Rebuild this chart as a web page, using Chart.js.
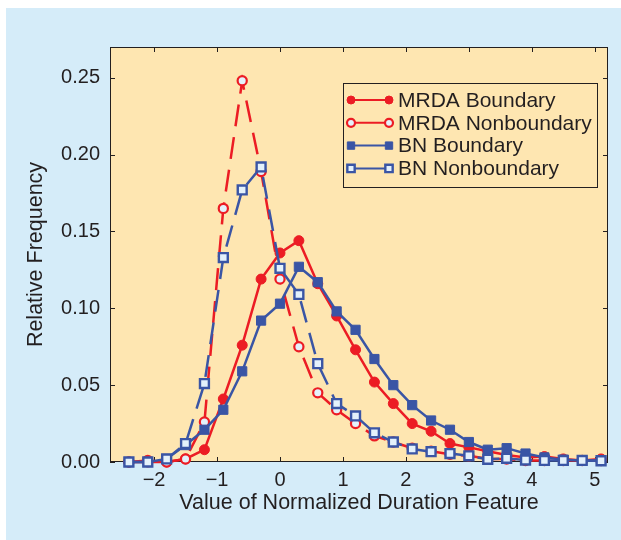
<!DOCTYPE html>
<html>
<head>
<meta charset="utf-8">
<script src="https://cdn.jsdelivr.net/npm/chart.js@4.4.0/dist/chart.umd.min.js"></script>
<style>
  html, body { margin: 0; padding: 0; background: #fff; }
  canvas { display: block; }
</style>
</head>
<body>
<canvas id="chart-duration" width="621" height="540"></canvas>
<script>
// values (x = normalized duration feature)
var durationX = [-2.4, -2.1, -1.8, -1.5, -1.2, -0.9, -0.6, -0.3, 0, 0.3, 0.6, 0.9, 1.2,
                 1.5, 1.8, 2.1, 2.4, 2.7, 3.0, 3.3, 3.6, 3.9, 4.2, 4.5, 4.8, 5.1];
var mrdaBoundary = [0, 0, 0, 0.002, 0.008, 0.041, 0.076, 0.119, 0.136, 0.144, 0.116, 0.095, 0.073,
                    0.052, 0.038, 0.025, 0.020, 0.012, 0.0095, 0.007, 0.0045, 0.003, 0.0035, 0.002, 0.001, 0.002];
var mrdaNonboundary = [0, 0.001, 0, 0.002, 0.026, 0.165, 0.248, 0.189, 0.119, 0.075, 0.045, 0.034, 0.025,
                       0.017, 0.013, 0.009, 0.007, 0.005, 0.004, 0.002, 0.002, 0.001, 0.001, 0.001, 0.001, 0.001];
var bnBoundary = [0, 0, 0.002, 0.011, 0.021, 0.034, 0.059, 0.092, 0.103, 0.127, 0.117, 0.098, 0.086,
                  0.067, 0.050, 0.037, 0.027, 0.021, 0.013, 0.008, 0.009, 0.0055, 0.003, 0.0015, 0.001, 0.001];
var bnNonboundary = [0, 0, 0.002, 0.012, 0.051, 0.133, 0.177, 0.192, 0.126, 0.109, 0.064, 0.038, 0.030,
                     0.019, 0.013, 0.0085, 0.0067, 0.0055, 0.004, 0.0018, 0.0024, 0.0013, 0.001, 0.001, 0.001, 0.0008];
var seriesLabels = ['MRDA Boundary', 'MRDA Nonboundary', 'BN Boundary', 'BN Nonboundary'];
var xTicks = [-2, -1, 0, 1, 2, 3, 4, 5];
var yTicks = [0, 0.05, 0.10, 0.15, 0.20, 0.25];

var red = '#ec1c24';
var blue = '#3a55a5';
var openFill = '#e4f1fb';
var ink = '#231f20';
var fontFamily = '"Liberation Sans", Arial, Helvetica, sans-serif';

function points(values) {
    return durationX.map(function (x, i) { return { x: x, y: values[i] }; });
}

// background panels
var panels = {
    id: 'panels',
    beforeDraw: function (chart) {
        var ctx = chart.ctx, ca = chart.chartArea;
        ctx.save();
        ctx.fillStyle = '#ffffff';
        ctx.fillRect(0, 0, chart.width, chart.height);
        ctx.fillStyle = '#d5ecf9';
        ctx.fillRect(6, 8, chart.width - 6, chart.height - 8);
        ctx.fillStyle = '#fee6b1';
        ctx.fillRect(ca.left, ca.top, ca.right - ca.left, ca.bottom - ca.top);
        ctx.restore();
    }
};

// box round the plot with inward ticks on all four sides
var frame = {
    id: 'frame',
    beforeDatasetsDraw: function (chart) {
        var ctx = chart.ctx, ca = chart.chartArea;
        var xs = chart.scales.x, ys = chart.scales.y;
        var len = 5;
        ctx.save();
        ctx.strokeStyle = ink;
        ctx.lineWidth = 1;
        ctx.strokeRect(ca.left + 0.5, ca.top + 0.5, ca.right - ca.left - 1, ca.bottom - ca.top - 1);
        ctx.beginPath();
        xs.ticks.forEach(function (t) {
            var px = Math.round(xs.getPixelForValue(t.value)) + 0.5;
            ctx.moveTo(px, ca.bottom); ctx.lineTo(px, ca.bottom - len);
            ctx.moveTo(px, ca.top); ctx.lineTo(px, ca.top + len);
        });
        ys.ticks.forEach(function (t) {
            var py = Math.round(ys.getPixelForValue(t.value)) + 0.5;
            ctx.moveTo(ca.left, py); ctx.lineTo(ca.left + len, py);
            ctx.moveTo(ca.right, py); ctx.lineTo(ca.right - len, py);
        });
        ctx.stroke();
        ctx.restore();
    }
};

// legend box: marker - line - marker, then label
var boxLegend = {
    id: 'boxLegend',
    afterDraw: function (chart) {
        var ctx = chart.ctx, ca = chart.chartArea;
        var left = ca.right - 265, top = ca.top + 36, w = 254, h = 104;
        ctx.save();
        ctx.fillStyle = '#fee6b1';
        ctx.fillRect(left, top, w, h);
        ctx.strokeStyle = ink;
        ctx.lineWidth = 1;
        ctx.strokeRect(left + 0.5, top + 0.5, w, h);
        chart.data.datasets.forEach(function (ds, i) {
            var cy = top + 17 + i * 22.8;
            var x0 = left + 8, x1 = left + 46;
            ctx.strokeStyle = ds.borderColor;
            ctx.lineWidth = 2;
            ctx.setLineDash([]);
            ctx.beginPath();
            ctx.moveTo(x0, cy); ctx.lineTo(x1, cy);
            ctx.stroke();
            [x0, x1].forEach(function (mx) {
                ctx.fillStyle = ds.pointBackgroundColor;
                ctx.strokeStyle = ds.pointBorderColor;
                ctx.lineWidth = ds.pointBorderWidth;
                Chart.helpers.drawPoint(ctx, {
                    pointStyle: ds.pointStyle,
                    radius: ds.pointStyle === 'rect' ? 5.2 : 4,
                    borderWidth: ds.pointBorderWidth,
                    rotation: 0
                }, mx, cy);
            });
            ctx.fillStyle = ink;
            ctx.font = '21px ' + fontFamily;
            ctx.textBaseline = 'middle';
            ctx.textAlign = 'left';
            ctx.fillText(ds.label, left + 55, cy + 1);
        });
        ctx.restore();
    }
};

var config = {
    type: 'line',
    data: {
        datasets: [{
            label: seriesLabels[0],
            data: points(mrdaBoundary),
            borderColor: red,
            borderWidth: 2.5,
            pointStyle: 'circle',
            pointRadius: 5,
            pointBackgroundColor: red,
            pointBorderColor: red,
            pointBorderWidth: 1,
            order: 4
        }, {
            label: seriesLabels[1],
            data: points(mrdaNonboundary),
            borderColor: red,
            borderWidth: 2.5,
            borderDash: [22, 11],
            pointStyle: 'circle',
            pointRadius: 4.6,
            pointBackgroundColor: openFill,
            pointBorderColor: red,
            pointBorderWidth: 2.2,
            order: 3
        }, {
            label: seriesLabels[2],
            data: points(bnBoundary),
            borderColor: blue,
            borderWidth: 2.5,
            pointStyle: 'rect',
            pointRadius: 6.5,
            pointBackgroundColor: blue,
            pointBorderColor: blue,
            pointBorderWidth: 1,
            order: 2
        }, {
            label: seriesLabels[3],
            data: points(bnNonboundary),
            borderColor: blue,
            borderWidth: 2.5,
            borderDash: [22, 11],
            pointStyle: 'rect',
            pointRadius: 6.3,
            pointBackgroundColor: openFill,
            pointBorderColor: blue,
            pointBorderWidth: 2.4,
            order: 1
        }]
    },
    options: {
        responsive: false,
        animation: false,
        clip: false,
        layout: { padding: { left: 0, right: 13, top: 47, bottom: 0 } },
        plugins: { legend: { display: false }, tooltip: { enabled: false } },
        elements: { line: { tension: 0 } },
        scales: {
            x: {
                type: 'linear',
                min: -2.7,
                max: 5.21,
                grid: { display: false, drawTicks: false },
                border: { display: false },
                afterBuildTicks: function (scale) {
                    scale.ticks = xTicks.map(function (v) { return { value: v }; });
                },
                afterFit: function (scale) { scale.height = 78; },
                ticks: {
                    padding: 6,
                    color: ink,
                    font: { family: fontFamily, size: 20 },
                    maxRotation: 0,
                    callback: function (v) { return v < 0 ? '\u2212' + Math.abs(v) : String(v); }
                },
                title: {
                    display: true,
                    text: 'Value of Normalized Duration Feature',
                    color: ink,
                    font: { family: fontFamily, size: 21.5 },
                    padding: { top: 0, bottom: 24 }
                }
            },
            y: {
                type: 'linear',
                min: 0,
                max: 0.27,
                grid: { display: false, drawTicks: false },
                border: { display: false },
                afterBuildTicks: function (scale) {
                    scale.ticks = yTicks.map(function (v) { return { value: v }; });
                },
                afterFit: function (scale) { scale.width = 110; },
                ticks: {
                    padding: 10,
                    color: ink,
                    font: { family: fontFamily, size: 20 },
                    callback: function (v) { return v.toFixed(2); }
                },
                title: {
                    display: true,
                    text: 'Relative Frequency',
                    color: ink,
                    font: { family: fontFamily, size: 21.5 },
                    padding: { top: 23, bottom: 0 }
                }
            }
        }
    },
    plugins: [panels, frame, boxLegend]
};

window.onload = function () {
    var ctx = document.getElementById('chart-duration').getContext('2d');
    window.durationChart = new Chart(ctx, config);
};
</script>
</body>
</html>
